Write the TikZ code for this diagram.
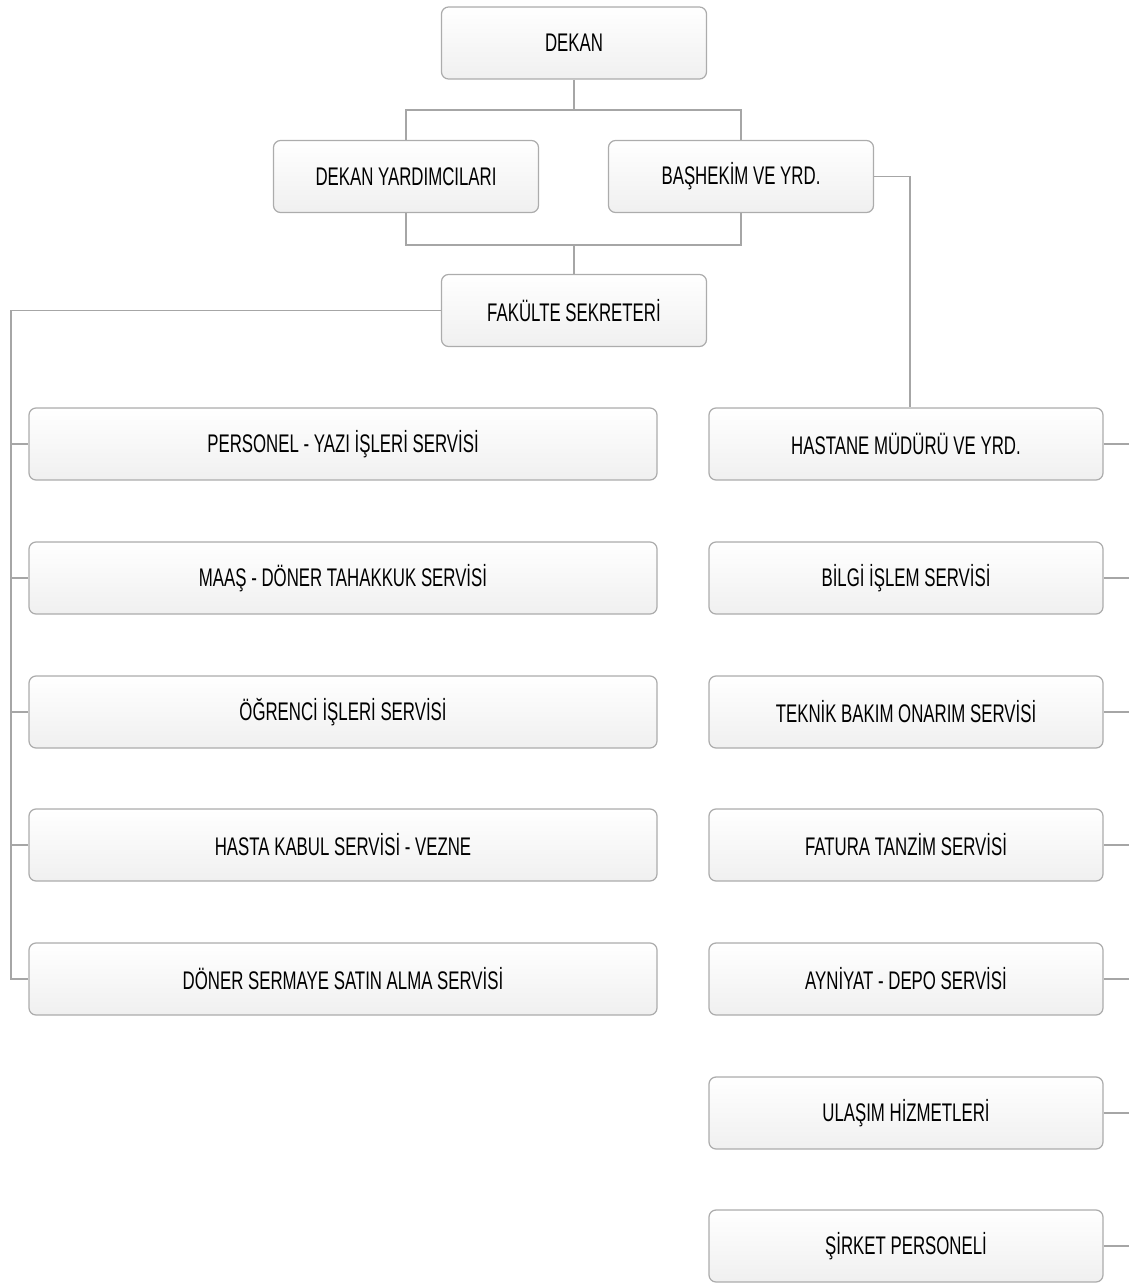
\documentclass[tikz,border=0pt]{standalone}
\usepackage{fontspec}
\setmainfont{Liberation Sans}[FakeStretch=0.66]
\tikzset{
	unit/.style={draw=gray!65,line width=0.7pt,rounded corners=4pt,top color=white,bottom color=gray!12,minimum height=1.44cm,text=black,font=\fontsize{14.5}{17}\selectfont},
	topunit/.style={unit,minimum width=5.3cm},
	leftunit/.style={unit,minimum width=12.56cm},
	rightunit/.style={unit,minimum width=7.88cm},
	link/.style={draw=gray!70,line width=0.6pt}
}
\begin{document}
\begin{tikzpicture}
	\useasboundingbox (0,0) rectangle (22.58,-25.68);
	\node[topunit] at (11.48,-0.86)(dekan){DEKAN};
	\node[topunit] at (8.12,-3.53)(dy){DEKAN YARDIMCILARI};
	\node[topunit] at (14.82,-3.53)(bh){BAŞHEKİM VE YRD.};
	\node[topunit] at (11.48,-6.21)(fs){FAKÜLTE SEKRETERİ};
	\coordinate (bus1) at (11.48,-2.2);
	\coordinate (bus2) at (11.48,-4.9);
	\coordinate (trunk) at (0.22,-6.21);
	\coordinate (rend) at (22.58,-6.21);

	\node[leftunit] at (6.86,-8.88)(personel){PERSONEL - YAZI İŞLERİ SERVİSİ};
	\node[leftunit] at (6.86,-11.56)(maas){MAAŞ - DÖNER TAHAKKUK SERVİSİ};
	\node[leftunit] at (6.86,-14.24)(ogrenci){ÖĞRENCİ İŞLERİ SERVİSİ};
	\node[leftunit] at (6.86,-16.9)(hasta){HASTA KABUL SERVİSİ - VEZNE};
	\node[leftunit] at (6.86,-19.58)(doner){DÖNER SERMAYE SATIN ALMA SERVİSİ};

	\node[rightunit] at (18.12,-8.88)(hastane){HASTANE MÜDÜRÜ VE YRD.};
	\node[rightunit] at (18.12,-11.56)(bilgi){BİLGİ İŞLEM SERVİSİ};
	\node[rightunit] at (18.12,-14.24)(teknik){TEKNİK BAKIM ONARIM SERVİSİ};
	\node[rightunit] at (18.12,-16.9)(fatura){FATURA TANZİM SERVİSİ};
	\node[rightunit] at (18.12,-19.58)(ayniyat){AYNİYAT - DEPO SERVİSİ};
	\node[rightunit] at (18.12,-22.26)(ulasim){ULAŞIM HİZMETLERİ};
	\node[rightunit] at (18.12,-24.92)(sirket){ŞİRKET PERSONELİ};

	% upper levels
	\draw[link] (dekan.south)--(bus1);
	\draw[link] (dy.north)|-(bus1)-|(bh.north);
	\draw[link] (dy.south)|-(bus2)-|(bh.south);
	\draw[link] (bus2)--(fs.north);
	\draw[link] (bh.east)-|(18.2,-6.2)--(hastane.north-|18.2,0);

	% left column
	\draw[link] (fs.west)--(trunk)|-(doner.west);
	\path[link]
		(personel.west-|trunk) edge (personel.west)
		(maas.west-|trunk) edge (maas.west)
		(ogrenci.west-|trunk) edge (ogrenci.west)
		(hasta.west-|trunk) edge (hasta.west);

	% right column
	\path[link]
		(hastane.east) edge (hastane.east-|rend)
		(bilgi.east) edge (bilgi.east-|rend)
		(teknik.east) edge (teknik.east-|rend)
		(fatura.east) edge (fatura.east-|rend)
		(ayniyat.east) edge (ayniyat.east-|rend)
		(ulasim.east) edge (ulasim.east-|rend)
		(sirket.east) edge (sirket.east-|rend);
\end{tikzpicture}
\end{document}
